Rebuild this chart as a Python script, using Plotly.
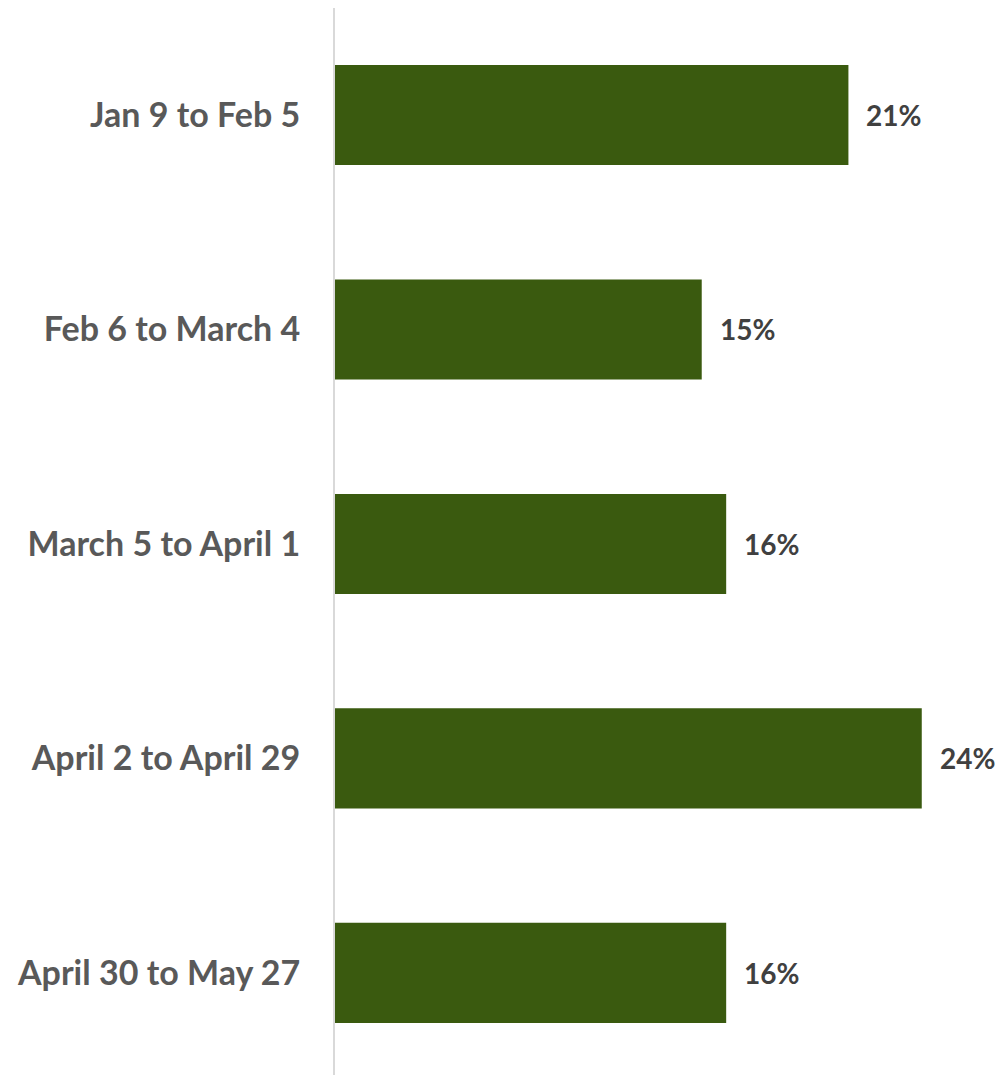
import plotly.graph_objects as go

# Share of responses per four-week period
periods = ["Jan 9 to Feb 5", "Feb 6 to March 4", "March 5 to April 1",
           "April 2 to April 29", "April 30 to May 27"]
shares = [21, 15, 16, 24, 16]

BAR_COLOR = "#3A5A0F"
FONT = "Lato"

fig = go.Figure(
    go.Bar(
        x=shares,
        y=list(range(len(periods))),
        orientation="h",
        width=0.467,
        marker=dict(color=BAR_COLOR, line=dict(width=0)),
        hoverinfo="skip",
    )
)

# Value labels placed just right of each bar end
for i, v in enumerate(shares):
    fig.add_annotation(
        x=v, y=i, text=f"<b>{v}%</b>", showarrow=False,
        xanchor="left", yanchor="middle", xshift=16,
        font=dict(family=FONT, size=28, color="#404040"),
    )

fig.update_layout(
    width=1000, height=1075,
    margin=dict(l=335, r=0, t=8, b=0),
    paper_bgcolor="white", plot_bgcolor="white",
    showlegend=False,
    xaxis=dict(range=[0, 27.2], visible=False, fixedrange=True),
    yaxis=dict(
        range=[4.476, -0.499],
        tickmode="array",
        tickvals=list(range(len(periods))),
        ticktext=[f"<b>{p}</b>" for p in periods],
        tickfont=dict(family=FONT, size=34, color="#595959"),
        ticks="", ticklabelstandoff=26,
        showline=True, linecolor="#D9D9D9", linewidth=2,
        showgrid=False, zeroline=False,
    ),
)

fig.write_html("out.html")
